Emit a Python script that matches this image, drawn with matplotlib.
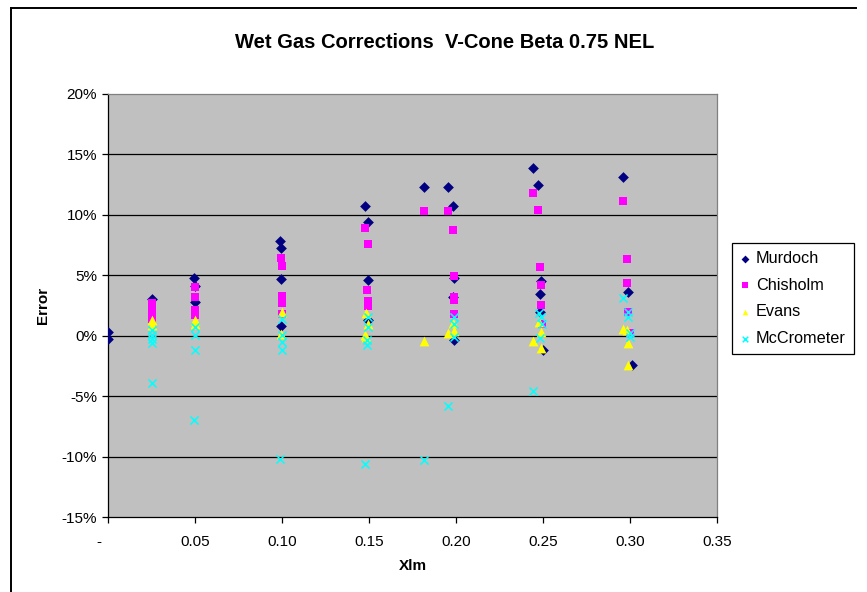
import matplotlib
matplotlib.use('Agg')
import matplotlib.pyplot as plt
from matplotlib.lines import Line2D
from matplotlib.ticker import FuncFormatter

# dados (x = Xlm, y = erro em %)
murdoch_x = [0.0, 0.0, 0.025, 0.0495, 0.05, 0.05, 0.0988, 0.0995, 0.0995, 0.0995,
             0.1477, 0.149, 0.1494, 0.149, 0.1813, 0.1951, 0.1981, 0.1985, 0.198, 0.1985,
             0.2439, 0.2471, 0.2487, 0.2483, 0.2483, 0.2497, 0.2956, 0.2988, 0.3008]
murdoch_y = [0.28, -0.27, 3.03, 4.8, 4.1, 2.76, 7.85, 7.25, 4.7, 0.83,
             10.7, 9.37, 4.58, 1.3, 12.27, 12.3, 10.74, 4.8, 3.2, -0.36,
             13.88, 12.45, 4.55, 3.45, 2.0, -1.18, 13.14, 3.64, -2.42]

chisholm_x = [0.025, 0.025, 0.025, 0.025, 0.05, 0.05, 0.05, 0.05,
              0.099, 0.0997, 0.0997, 0.0997, 0.0997, 0.1477, 0.149, 0.1485, 0.1494, 0.149,
              0.1813, 0.1951, 0.1981, 0.1985, 0.1988, 0.1988, 0.1986,
              0.2439, 0.2471, 0.2481, 0.2487, 0.2487, 0.2495,
              0.2956, 0.2984, 0.2983, 0.2988, 0.2998]
chisholm_y = [2.7, 2.2, 1.7, 1.4, 4.0, 3.2, 2.1, 1.7,
              6.4, 5.8, 3.3, 2.7, 1.8, 8.9, 7.58, 3.78, 2.87, 2.5,
              10.3, 10.3, 8.76, 4.96, 3.2, 2.95, 1.77,
              11.8, 10.4, 5.7, 4.19, 2.54, 1.0,
              11.16, 6.34, 4.38, 1.98, 0.2]

evans_x = [0.025, 0.025, 0.05, 0.05, 0.0997, 0.0995, 0.1482, 0.1477, 0.148, 0.149,
           0.1813, 0.1951, 0.198, 0.1988, 0.2473, 0.2485, 0.2439, 0.2487,
           0.2956, 0.2979, 0.2987, 0.2985]
evans_y = [1.3, 0.9, 1.3, 1.0, 2.0, 0.15, 1.85, 0.06, -0.1, 1.0,
           -0.45, 0.2, 1.07, 0.4, 1.16, 0.33, -0.41, -1.04,
           0.55, 0.47, -0.63, -2.42]

mccrometer_x = [0.025, 0.025, 0.025, 0.025, 0.025, 0.05, 0.05, 0.05, 0.0495,
                0.0997, 0.0997, 0.0997, 0.0997, 0.0985, 0.1494, 0.1494, 0.1488, 0.1486, 0.1477,
                0.1813, 0.1951, 0.1988, 0.1988, 0.1985,
                0.2475, 0.2485, 0.2491, 0.2483, 0.2439,
                0.2956, 0.2988, 0.2988, 0.3001, 0.2998]
mccrometer_y = [0.5, 0.1, -0.3, -0.6, -3.93, 0.75, 0.06, -1.2, -6.97,
                1.4, 0.05, -0.5, -1.2, -10.2, 1.57, 0.75, -0.35, -0.77, -10.6,
                -10.3, -5.78, 1.57, 1.0, -0.1,
                1.85, 1.57, 0.97, -0.2, -4.57,
                3.09, 1.98, 1.57, 0.2, -0.1]

x_ticks = [0.0, 0.05, 0.10, 0.15, 0.20, 0.25, 0.30, 0.35]
x_tick_labels = ['-    ', '0.05', '0.10', '0.15', '0.20', '0.25', '0.30', '0.35']
y_ticks = [-15, -10, -5, 0, 5, 10, 15, 20]

plt.rcParams['font.family'] = ['Liberation Sans', 'DejaVu Sans']


def plot_wet_gas():
    fig = plt.figure(figsize=(8.67, 5.92), dpi=100)
    ax = fig.add_axes([0.1249, 0.1264, 0.7024, 0.715])
    ax.set_facecolor('#C0C0C0')

    ax.set_xlim(0, 0.35)
    ax.set_ylim(-15, 20)

    # linhas de grade horizontais
    for v in y_ticks[1:-1]:
        ax.axhline(v, color='black', linewidth=0.9, zorder=1)

    ax.scatter(murdoch_x, murdoch_y, marker='D', s=30, color='#000080', label='Murdoch', zorder=3, linewidths=0)
    ax.scatter(chisholm_x, chisholm_y, marker='s', s=36, color='#FF00FF', label='Chisholm', zorder=4, linewidths=0)
    ax.scatter(evans_x, evans_y, marker='^', s=50, color='#FFFF00', label='Evans', zorder=5, linewidths=0)
    ax.scatter(mccrometer_x, mccrometer_y, marker='x', s=34, color='#00FFFF', label='McCrometer', zorder=6, linewidths=1.1)

    ax.set_xticks(x_ticks)
    ax.set_xticklabels(x_tick_labels)
    ax.set_yticks(y_ticks)
    ax.yaxis.set_major_formatter(FuncFormatter(lambda v, p: '%d%%' % v))
    ax.tick_params(axis='x', length=4, width=0.9, pad=9, labelsize=11, direction='out')
    ax.tick_params(axis='y', length=4, width=0.9, pad=4, labelsize=11, direction='out')

    for side in ['left', 'bottom']:
        ax.spines[side].set_color('black')
        ax.spines[side].set_linewidth(0.9)
    for side in ['top', 'right']:
        ax.spines[side].set_color('#808080')
        ax.spines[side].set_linewidth(0.9)

    ax.set_xlabel('Xlm', fontsize=11, fontweight='bold')
    ax.xaxis.set_label_coords(0.5, -0.1)
    ax.set_ylabel('Error', fontsize=11, fontweight='bold')
    ax.yaxis.set_label_coords(-0.096, 0.5)

    fig.text(445 / 867, 1 - 42 / 592, 'Wet Gas Corrections  V-Cone Beta 0.75 NEL',
             ha='center', va='center', fontsize=14.5, fontweight='bold')

    leg = fig.legend(loc='upper left', bbox_to_anchor=(0.844, 0.590), fontsize=11.7,
                     frameon=True, fancybox=False, edgecolor='black', framealpha=1,
                     handlelength=0.6, handletextpad=0.4, labelspacing=0.72,
                     borderpad=0.5, borderaxespad=0)
    leg.get_frame().set_linewidth(0.9)
    for h in leg.legend_handles:
        h.set_sizes([16])

    # moldura do grafico
    fig.add_artist(Line2D([11 / 867, 11 / 867], [0, 1 - 8 / 592], color='black', linewidth=1.4))
    fig.add_artist(Line2D([11 / 867, 856 / 867], [1 - 8 / 592, 1 - 8 / 592], color='black', linewidth=1.4))

    fig.savefig('out.png', dpi=100)


plot_wet_gas()
